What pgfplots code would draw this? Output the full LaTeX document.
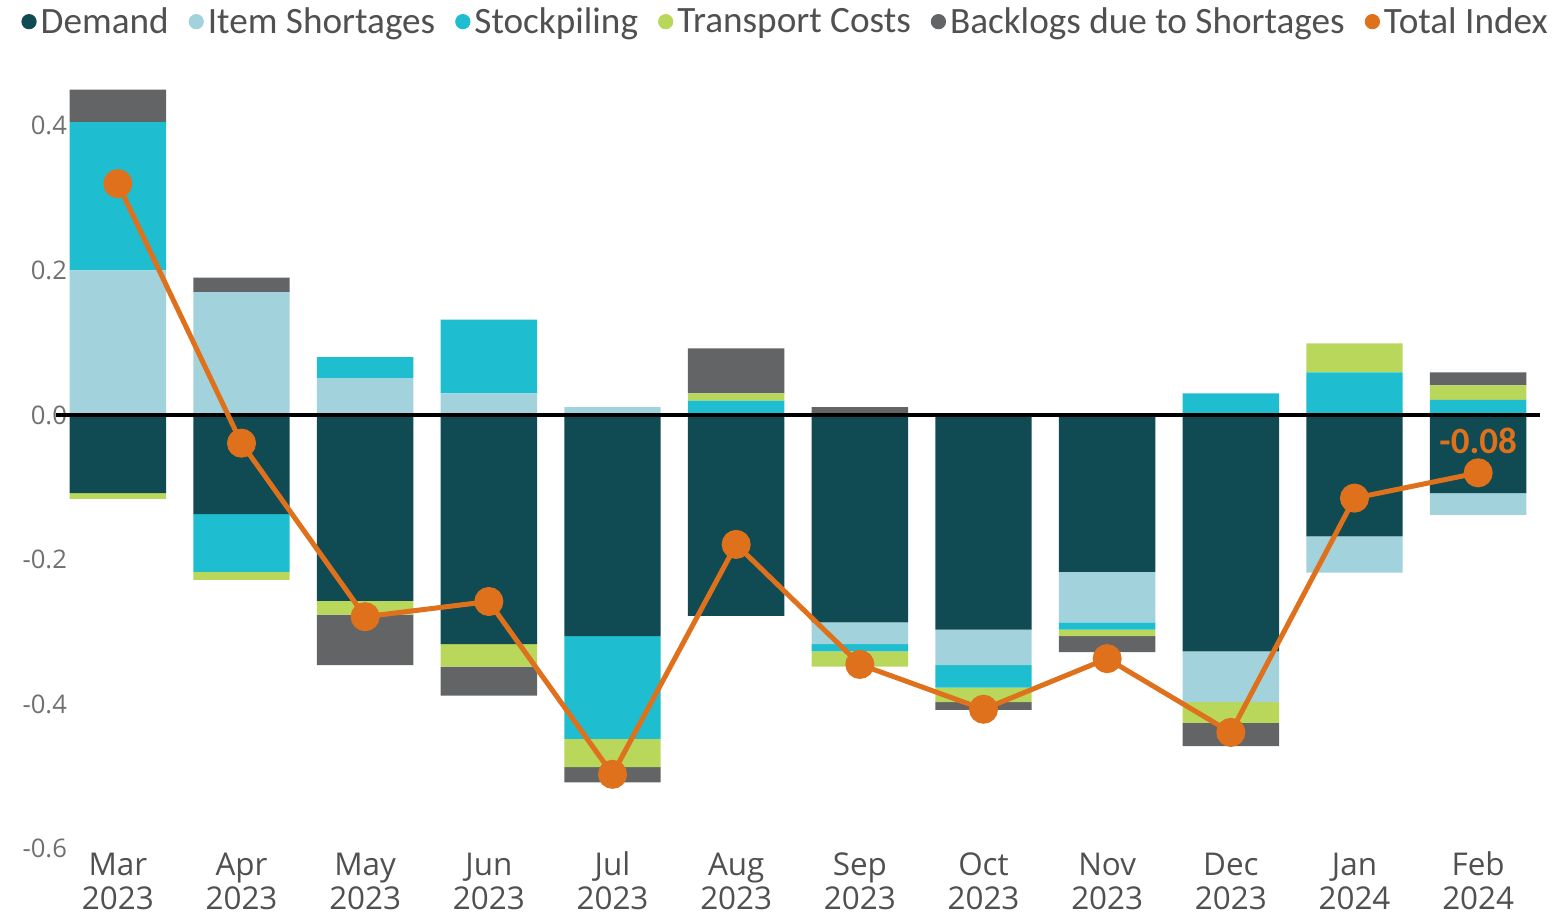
\documentclass[border=0pt]{standalone}
\usepackage{pgfplots}
\pgfplotsset{compat=1.18}
\usepackage{pgfplotstable}
\usepackage{fontspec}
\setmainfont{Carlito}
\newfontfamily\tickfont{Open Sans}
\definecolor{cDem}{HTML}{104A52}
\definecolor{cItem}{HTML}{A2D3DC}
\definecolor{cStock}{HTML}{1EBDCF}
\definecolor{cTrans}{HTML}{B9D75A}
\definecolor{cBack}{HTML}{626466}
\definecolor{cTot}{HTML}{E0711C}
\definecolor{cTick}{HTML}{707070}
\definecolor{cTxt}{HTML}{505050}
\newcommand{\xl}[2]{\vphantom{Jlp}#1\\#2}

% positive parts (P) and negative parts (N) of each component, and the total index
\pgfplotstableread{
x dP iP sP tP bP dN iN sN tN bN tot
0 0 0.200 0.205 0 0.045 -0.108 0 0 -0.008 0 0.320
1 0 0.170 0 0 0.020 -0.137 0 -0.080 -0.011 0 -0.039
2 0 0.051 0.029 0 0 -0.257 0 0 -0.019 -0.070 -0.279
3 0 0.030 0.102 0 0 -0.317 0 0 -0.031 -0.040 -0.258
4 0 0.011 0 0 0 -0.306 0 -0.142 -0.039 -0.021 -0.497
5 0 0 0.020 0.010 0.062 -0.278 0 0 0 0 -0.179
6 0 0 0 0 0.011 -0.287 -0.030 -0.010 -0.021 0 -0.345
7 0 0 0 0 0 -0.297 -0.049 -0.031 -0.020 -0.011 -0.407
8 0 0 0 0 0 -0.217 -0.070 -0.010 -0.009 -0.022 -0.337
9 0 0 0.030 0 0 -0.327 -0.070 0 -0.029 -0.032 -0.439
10 0 0 0.059 0.040 0 -0.168 -0.050 0 0 0 -0.115
11 0 0 0.021 0.020 0.018 -0.108 -0.030 0 0 0 -0.080
}\data

\pgfplotsset{
  base/.style={
    at={(28pt,33.1pt)}, anchor=south west, scale only axis,
    width=742pt, height=383.2pt,
    xmin=-0.5, xmax=11.5, ymin=-0.6, ymax=0.46, clip=false},
  barax/.style={base, hide axis, ybar stacked, bar width=0.78,
    every axis plot/.append style={draw=none}}
}

\begin{document}
\begin{tikzpicture}
\path[use as bounding box] (0,0) rectangle (778.5pt,457.5pt);
% positive stack
\begin{axis}[barax]
\addplot[fill=cDem]   table[x=x,y=dP]{\data};
\addplot[fill=cItem]  table[x=x,y=iP]{\data};
\addplot[fill=cStock] table[x=x,y=sP]{\data};
\addplot[fill=cTrans] table[x=x,y=tP]{\data};
\addplot[fill=cBack]  table[x=x,y=bP]{\data};
\end{axis}
% negative stack
\begin{axis}[barax]
\addplot[fill=cDem]   table[x=x,y=dN]{\data};
\addplot[fill=cItem]  table[x=x,y=iN]{\data};
\addplot[fill=cStock] table[x=x,y=sN]{\data};
\addplot[fill=cTrans] table[x=x,y=tN]{\data};
\addplot[fill=cBack]  table[x=x,y=bN]{\data};
\end{axis}
% line, ticks, legend
\begin{axis}[base,
  axis line style={draw=none}, major tick length=0pt,
  ytick={-0.6,-0.4,-0.2,0,0.2,0.4},
  yticklabels={-0.6,-0.4,-0.2,0.0,0.2,0.4},
  yticklabel style={font=\tickfont\fontsize{12.8}{14}\selectfont, text=cTick, anchor=east, xshift=9pt},
  xtick={0,...,11},
  xticklabels={{\xl{Mar}{2023}},{\xl{Apr}{2023}},{\xl{May}{2023}},{\xl{Jun}{2023}},{\xl{Jul}{2023}},{\xl{Aug}{2023}},{\xl{Sep}{2023}},{\xl{Oct}{2023}},{\xl{Nov}{2023}},{\xl{Dec}{2023}},{\xl{Jan}{2024}},{\xl{Feb}{2024}}},
  xticklabel style={font=\tickfont\fontsize{15.7}{17}\selectfont, text=cTxt, align=center, inner sep=0pt, anchor=north, yshift=-1pt},
  legend columns=6,
  legend style={draw=none, fill=none, at={(-0.0276,1.109)}, anchor=north west,
    font=\fontsize{18.6}{20}\selectfont, text=cTxt,
    /tikz/every odd column/.append style={column sep=0pt},
    /tikz/every even column/.append style={column sep=8pt}},
  legend image code/.code={\fill (3.6pt,0pt) circle (3.6pt);},
]
\draw[black, line width=2pt] (axis cs:-0.5,0) -- (axis cs:11.5,0);
\addlegendimage{cDem}\addlegendentry{Demand}
\addlegendimage{cItem}\addlegendentry{Item Shortages}
\addlegendimage{cStock}\addlegendentry{Stockpiling}
\addlegendimage{cTrans}\addlegendentry{Transport Costs}
\addlegendimage{cBack}\addlegendentry{Backlogs due to Shortages}
\addlegendimage{cTot}\addlegendentry{Total Index}
\addplot[cTot, line width=2.5pt, mark=*, mark size=6pt, forget plot] table[x=x,y=tot]{\data};
\node[text=cTot, font=\bfseries\fontsize{18.5}{20}\selectfont] at (axis cs:11,-0.08) [yshift=16pt] {-0.08};
\end{axis}
\end{tikzpicture}
\end{document}
